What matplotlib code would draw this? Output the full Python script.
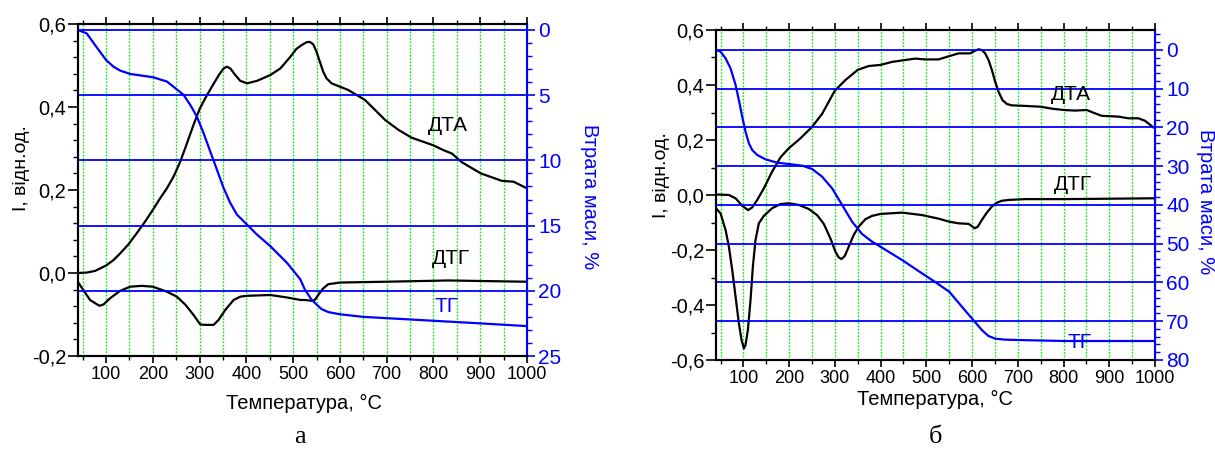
import matplotlib
matplotlib.use("Agg")
import matplotlib.pyplot as plt
from matplotlib.ticker import MultipleLocator, FuncFormatter

plt.rcParams['font.family'] = ['Liberation Sans', 'DejaVu Sans']

# ---------------- Panel a ----------------
a_dta_t = [40, 58.6, 76.4, 100, 115.7, 130, 147.8, 165.7, 183.5, 200, 215.6, 230, 244.2,
           258.5, 272.8, 287, 300, 312, 326.3, 340.6, 351.3, 358.4, 365.6, 376.3, 387,
           401.3, 422.7, 451.3, 472.7, 494, 507, 517.9, 528.6, 535.7, 542.9, 550, 557.1,
           564.3, 571.4, 582.1, 600, 617.8, 635.7, 653.5, 675, 696.4, 725, 753.5, 801.3,
           821.3, 839.2, 860.6, 901.3, 946.3, 971.3, 996.3]
a_dta_v = [0.0, 0.001, 0.005, 0.018, 0.031, 0.047, 0.069, 0.096, 0.124, 0.152, 0.180,
           0.204, 0.232, 0.268, 0.312, 0.357, 0.395, 0.421, 0.449, 0.476, 0.493, 0.497,
           0.493, 0.477, 0.463, 0.457, 0.463, 0.477, 0.493, 0.521, 0.540, 0.549, 0.556,
           0.557, 0.551, 0.533, 0.509, 0.485, 0.469, 0.457, 0.449, 0.441, 0.429, 0.417,
           0.393, 0.369, 0.345, 0.326, 0.307, 0.296, 0.288, 0.267, 0.240, 0.222, 0.220,
           0.206]

a_dtg_t = [40, 51.4, 65.7, 85.7, 94.3, 108.5, 130, 151.4, 176.4, 200, 230, 251.3, 269.2,
           287, 301.3, 312, 330, 340.6, 354.9, 372.7, 387, 401.3, 451.3, 487, 515.5, 525,
           539.3, 546.4, 553.6, 564.3, 575, 600, 700, 832, 996]
a_dtg_v = [-0.022, -0.041, -0.065, -0.079, -0.076, -0.061, -0.043, -0.033, -0.031, -0.033,
           -0.045, -0.057, -0.076, -0.101, -0.124, -0.125, -0.125, -0.113, -0.089, -0.065,
           -0.057, -0.055, -0.053, -0.059, -0.065, -0.065, -0.067, -0.065, -0.053, -0.037,
           -0.027, -0.023, -0.021, -0.018, -0.021]

a_tg_t = [40, 58.6, 76.4, 100, 115.7, 130, 151.4, 200, 230, 250, 265.6, 280, 294, 308.5,
          322.7, 337, 351.3, 365.6, 379.9, 401.3, 422.7, 451.3, 487, 515.5, 525, 539, 550,
          560.7, 575, 600, 650, 700, 801, 901, 996]
a_tg_m = [0.0, 0.26, 1.15, 2.30, 2.81, 3.11, 3.37, 3.62, 3.95, 4.52, 4.97, 5.74, 6.63, 7.91,
          9.31, 10.71, 12.12, 13.27, 14.16, 14.92, 15.69, 16.58, 17.86, 19.13, 19.9, 20.66,
          21.05, 21.4, 21.63, 21.8, 22.0, 22.1, 22.3, 22.5, 22.7]

# ---------------- Panel b ----------------
b_dta_t = [40, 68.2, 82.8, 97.3, 110.4, 119.2, 130.1, 144.6, 162.8, 181, 199.2, 224.7,
           250.2, 272, 299.7, 323, 349.9, 374, 399.4, 424.9, 454, 475.9, 497.7, 526.7, 550,
           570.4, 595.9, 606.8, 614.1, 621.3, 628.6, 635.9, 643.2, 650.5, 657.7, 666.5,
           676, 686.9, 716, 750.2, 774.2, 801.2, 825.2, 850.7, 868.9, 883.4, 919.8, 941.7,
           963.5, 978.1, 996.3]
b_dta_v = [0.002, 0.0, -0.012, -0.039, -0.055, -0.045, -0.018, 0.024, 0.085, 0.137, 0.170,
           0.206, 0.248, 0.295, 0.379, 0.418, 0.455, 0.469, 0.473, 0.484, 0.491, 0.496,
           0.493, 0.493, 0.505, 0.515, 0.515, 0.525, 0.530, 0.527, 0.515, 0.491, 0.455,
           0.412, 0.376, 0.345, 0.331, 0.326, 0.324, 0.321, 0.314, 0.309, 0.307, 0.309,
           0.297, 0.288, 0.285, 0.279, 0.279, 0.270, 0.246]

b_dtg_t = [40, 50, 60.9, 68.2, 75.5, 82.8, 90, 95.9, 101, 104.6, 109.7, 115.5, 120.6,
           126.4, 133.7, 144.6, 162.8, 181, 199.2, 221.1, 242.9, 261.1, 275.7, 290.2, 301.2,
           308.4, 314.3, 321.5, 330.3, 341.2, 352.1, 366.7, 381.2, 399.4, 446.8, 490.4,
           526.7, 550, 570.4, 592.2, 599.5, 605.4, 612.6, 621.3, 632.3, 643.2, 654.1, 665,
           679.6, 716, 801.2, 996.3]
b_dtg_v = [-0.048, -0.067, -0.127, -0.188, -0.273, -0.370, -0.467, -0.527, -0.558, -0.545,
           -0.491, -0.382, -0.261, -0.164, -0.103, -0.076, -0.048, -0.033, -0.030, -0.036,
           -0.051, -0.073, -0.105, -0.158, -0.206, -0.227, -0.233, -0.222, -0.188, -0.145,
           -0.115, -0.088, -0.076, -0.069, -0.064, -0.073, -0.086, -0.097, -0.103, -0.105,
           -0.113, -0.121, -0.115, -0.091, -0.064, -0.042, -0.028, -0.021, -0.018, -0.015,
           -0.015, -0.012]

b_tg_t = [40, 50, 60.9, 71.8, 82.8, 90, 97.3, 104.6, 111.9, 119.2, 130.1, 148.3, 173.8,
          199.2, 228.4, 250.2, 272, 293.9, 315.7, 337.6, 359.4, 381.2, 399.4, 446.8, 490.4,
          519.6, 550, 577.7, 599.5, 621.3, 635.9, 650.5, 672.3, 700, 801.2, 996.3]
b_tg_m = [0.0, 0.43, 2.15, 4.73, 9.03, 12.9, 17.2, 21.08, 24.09, 25.81, 27.1, 28.22, 29.08,
          29.42, 29.85, 30.71, 32.69, 35.7, 39.97, 44.3, 47.48, 49.46, 50.75, 54.19, 57.63,
          59.9, 62.37, 66.24, 69.25, 72.26, 73.81, 74.49, 74.75, 74.84, 75.1, 75.1]

x_ticks = [100, 200, 300, 400, 500, 600, 700, 800, 900, 1000]
green_x = [50, 100, 150, 200, 250, 300, 350, 400, 450, 500, 550, 600, 650, 700, 750, 800,
           850, 900, 950]

BLUE = '#0000FF'
GREEN = '#00EE00'

fig = plt.figure(figsize=(12.15, 4.54), dpi=100)


def comma(v, pos):
    s = f"{v:.1f}".replace('.', ',')
    if s == '-0,0':
        s = '0,0'
    return s


def panel(rect, dta_t, dta_v, dtg_t, dtg_v, tg_t, tg_m, ylim, yminor, tglim, tgmajor,
          tgminor, lbls, ylab_pos, tglab_pos, xlab_pos):
    ax = fig.add_axes(rect)
    ax2 = ax.twinx()
    ax.set_xlim(40, 1000)
    ax.set_ylim(*ylim)
    ax2.set_ylim(*tglim)
    for gx in green_x:
        ax.axvline(gx, color=GREEN, lw=1.0, ls=(0, (1.2, 1.2)), zorder=0)
    h = 0
    while h < tglim[0]:
        ax2.axhline(h, color=BLUE, lw=1.3, zorder=0)
        h += tgmajor
    kw = dict(color='black', lw=1.6, zorder=3, solid_joinstyle='round')
    ax.plot(dta_t, dta_v, **kw)
    ax.plot(dtg_t, dtg_v, **kw)
    ax2.plot(tg_t, tg_m, color=BLUE, lw=1.6, solid_joinstyle='round')

    ax.xaxis.set_minor_locator(MultipleLocator(50))
    ax.set_xticks(x_ticks)
    ax.yaxis.set_major_locator(MultipleLocator(0.2))
    ax.yaxis.set_minor_locator(MultipleLocator(yminor))
    ax.yaxis.set_major_formatter(FuncFormatter(comma))
    ax.tick_params(axis='x', which='major', direction='out', length=5, width=1.2,
                   labelsize=13, pad=2)
    ax.tick_params(axis='x', which='minor', direction='out', length=3, width=1.0)
    ax.tick_params(axis='x', which='both', top=True)
    ax.tick_params(axis='y', which='major', direction='out', length=7, width=1.2,
                   labelsize=14.5, pad=1.5)
    ax.tick_params(axis='y', which='minor', direction='out', length=3.5, width=1.0)
    ax2.yaxis.set_major_locator(MultipleLocator(tgmajor))
    ax2.yaxis.set_minor_locator(MultipleLocator(tgminor))
    ax2.tick_params(axis='y', which='major', direction='out', length=6, width=1.2,
                    colors=BLUE, labelsize=15, pad=2)
    ax2.tick_params(axis='y', which='minor', direction='out', length=3.5, width=1.0,
                    colors=BLUE)
    for s in ['left', 'bottom', 'top']:
        ax.spines[s].set_linewidth(1.5)
        ax2.spines[s].set_linewidth(1.5)
    ax2.spines['right'].set_color(BLUE)
    ax2.spines['right'].set_linewidth(1.5)

    for (txt, x, y, c) in lbls:
        fig.text(x / 1215, 1 - y / 454, txt, color=c, fontsize=15, ha='center',
                 va='center')

    fig.text(ylab_pos[0] / 1215, 1 - ylab_pos[1] / 454, 'I, відн.од.', rotation=90,
             fontsize=14, ha='center', va='center')
    fig.text(tglab_pos[0] / 1215, 1 - tglab_pos[1] / 454, 'Втрата маси, %', rotation=270,
             fontsize=14.5, ha='center', va='center', color=BLUE)
    fig.text(xlab_pos[0] / 1215, 1 - xlab_pos[1] / 454, 'Температура, °C',
             fontsize=14.5, ha='center', va='center')
    return ax, ax2


panel([78 / 1215, 1 - 356 / 454, 449 / 1215, 332 / 454],
      a_dta_t, a_dta_v, a_dtg_t, a_dtg_v, a_tg_t, a_tg_m,
      (-0.2, 0.6), 0.04, (25, -0.46), 5, 1,
      [('ДТА', 448, 126, 'black'), ('ДТГ', 451, 258, 'black'), ('ТГ', 447, 306, BLUE)],
      (22, 168), (590, 197), (304, 403))

panel([716 / 1215, 1 - 360 / 454, 439 / 1215, 330 / 454],
      b_dta_t, b_dta_v, b_dtg_t, b_dtg_v, b_tg_t, b_tg_m,
      (-0.6, 0.6), 0.1, (80, -5.16), 10, 2,
      [('ДТА', 1071, 94, 'black'), ('ДТГ', 1073, 185, 'black'), ('ТГ', 1080, 343, BLUE)],
      (661, 175), (1205, 202), (935, 399))

fig.text(300 / 1215, 1 - 437 / 454, 'а', family=['Liberation Serif', 'DejaVu Serif'],
         fontsize=19, ha='center', va='center')
fig.text(935 / 1215, 1 - 437 / 454, 'б', family=['Liberation Serif', 'DejaVu Serif'],
         fontsize=19, ha='center', va='center')

fig.savefig('out.png', dpi=100)
